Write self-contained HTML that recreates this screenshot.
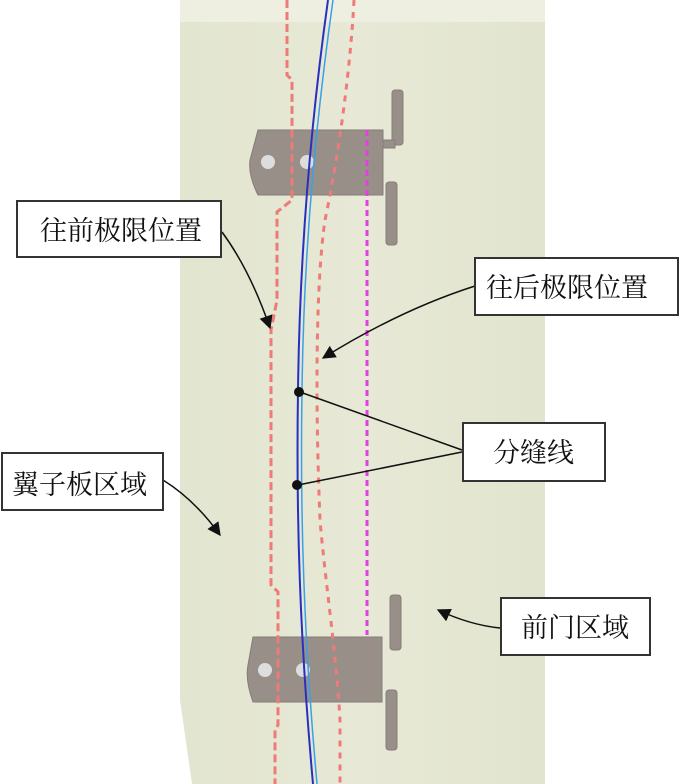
<!DOCTYPE html>
<html><head><meta charset="utf-8"><style>
html,body{margin:0;padding:0;background:#fff;}
svg{display:block;}
text{font-family:"Liberation Serif","Noto Serif CJK SC",serif;font-size:27px;fill:#111;}
</style></head><body>
<svg width="680" height="784" viewBox="0 0 680 784" xmlns="http://www.w3.org/2000/svg">
<defs>
<linearGradient id="bg" x1="0" y1="0" x2="1" y2="0">
<stop offset="0" stop-color="#e2e5cf"/><stop offset="0.5" stop-color="#e7e9d6"/><stop offset="1" stop-color="#e1e4ce"/>
</linearGradient>
<marker id="ah" viewBox="0 0 10 10" refX="9" refY="5" markerWidth="9" markerHeight="9" orient="auto"><path d="M0,0 L10,5 L0,10 z" fill="#111"/></marker>
</defs>
<path d="M180,0 H545 V784 H192 L180,700 Z" fill="url(#bg)"/>
<rect x="180" y="0" width="365" height="22" fill="#eeefe0"/>
<g fill="#978f88" stroke="#857d77" stroke-width="1">
<path d="M258,130 H383 V195 H258 Q248,175 250,160 Z"/>
<rect x="392" y="90" width="11" height="55" rx="3"/>
<path d="M383,140 H395 V148 H383 Z"/>
<rect x="386" y="182" width="11" height="63" rx="3"/>
<path d="M253,637 H382 V702 H253 Q245,680 248,665 Z"/>
<rect x="390" y="595" width="11" height="55" rx="3"/>
<rect x="386" y="690" width="11" height="60" rx="3"/>
</g>
<circle cx="268" cy="162" r="7" fill="#ddd"/><circle cx="307" cy="162" r="7" fill="#ddd"/>
<circle cx="265" cy="670" r="7" fill="#ddd"/><circle cx="303" cy="670" r="7" fill="#ddd"/>
<path d="M287,0 V75 L292,80 V200 L277,212 V300 L271,330 V585 L278,592 V725 L275,730 V784" fill="none" stroke="#f07a78" stroke-width="3" stroke-dasharray="8,4"/>
<path d="M354,0 C351,60 340,150 325,220 C316,280 315,400 320,520 C325,580 336,650 340,720 V784" fill="none" stroke="#f07a78" stroke-width="3" stroke-dasharray="6,6"/>
<line x1="367" y1="130" x2="367" y2="635" stroke="#e040e0" stroke-width="3" stroke-dasharray="6,4"/>
<path d="M328,0 C314,100 300,230 298,390 C296,520 300,640 313,784" fill="none" stroke="#2830c0" stroke-width="2"/>
<path d="M333,0 C319,100 304,230 302,390 C300,520 304,640 317,784" fill="none" stroke="#3aa0e8" stroke-width="1.5"/>
<circle cx="299" cy="392" r="5" fill="#111"/><circle cx="297" cy="485" r="5" fill="#111"/>
<g fill="none" stroke="#111" stroke-width="1.5">
<path d="M222,232 Q250,270 270,328" marker-end="url(#ah)"/>
<path d="M475,286 Q400,310 323,358" marker-end="url(#ah)"/>
<line x1="462" y1="450" x2="300" y2="392"/>
<line x1="462" y1="452" x2="298" y2="485"/>
<path d="M163,480 Q195,500 220,535" marker-end="url(#ah)"/>
<path d="M500,628 Q470,625 438,610" marker-end="url(#ah)"/>
</g>
<g fill="#fff" stroke="#333" stroke-width="2">
<rect x="17" y="201" width="204" height="56"/>
<rect x="475" y="258" width="203" height="57"/>
<rect x="463" y="423" width="142" height="58"/>
<rect x="2" y="453" width="161" height="57"/>
<rect x="501" y="598" width="149" height="57"/>
</g>
<text x="40" y="240">往前极限位置</text>
<text x="486" y="297">往后极限位置</text>
<text x="493" y="462">分缝线</text>
<text x="12" y="494">翼子板区域</text>
<text x="521" y="637">前门区域</text>
</svg>
</body></html>
